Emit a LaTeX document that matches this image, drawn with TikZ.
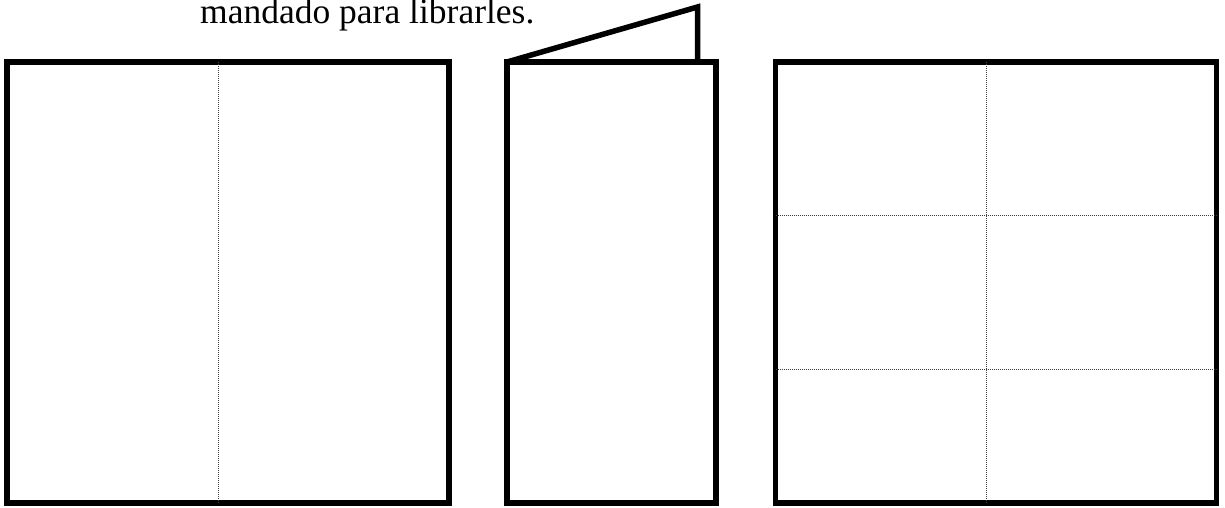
\documentclass[tikz,border=0pt]{standalone}
\usepackage{fontspec}
\setmainfont{Liberation Serif}
\usetikzlibrary{positioning}
\tikzset{
  sheet/.style   ={draw=black, line width=5.5pt, line join=miter},
  foldline/.style={draw=black!75, line width=0.9pt, dash pattern=on 1pt off 1pt},
  caption/.style ={font=\fontsize{35.5}{40}\selectfont, inner sep=0pt, anchor=base west},
}
\begin{document}
\begin{tikzpicture}[x=1pt, y=-1pt]
  \useasboundingbox (0,0) rectangle (1225,508);
  \node[caption] (txt) at (200,23.3) {mandado para librarles.};
  % open sheet, folded once
  \draw[sheet] (7,62) rectangle (449,503);
  \draw[foldline] (218,62) -- (218,503);
  % folded sheet with raised flap
  \draw[sheet] (507,62) rectangle (716,503);
  \coordinate (flaptop) at (697.5,7);
  \draw[sheet] (507,62) -- (flaptop) -- (697.5,62);
  % open sheet, six panels
  \draw[sheet] (775.5,62) rectangle (1216.5,503);
  \draw[foldline] (986,62) -- (986,503);
  \draw[foldline] (775.5,215) -- (1216.5,215);
  \draw[foldline] (775.5,369) -- (1216.5,369);
\end{tikzpicture}
\end{document}
